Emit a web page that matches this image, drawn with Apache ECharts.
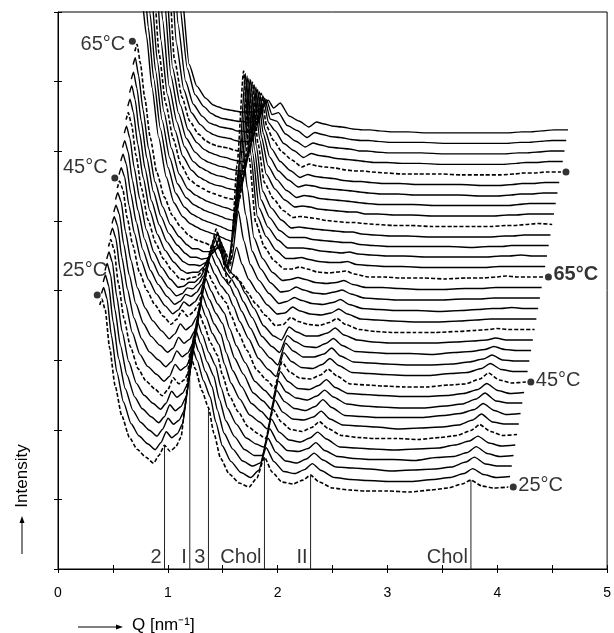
<!DOCTYPE html>
<html><head><meta charset="utf-8">
<script src="https://cdn.jsdelivr.net/npm/echarts@6/dist/echarts.min.js"></script>
<style>html,body{margin:0;padding:0;background:#fff}#chart{width:614px;height:633px}</style>
</head><body><div id="chart"></div>
<script>
// Q grid [nm^-1] shared by all scattering curves
const Q = [0.38,0.40,0.43,0.47,0.52,0.58,0.65,0.72,0.80,0.87,0.92,0.97,1.02,1.07,1.12,1.16,1.20,1.25,1.31,1.37,1.42,1.48,1.56,1.65,1.74,1.81,1.88,1.95,2.04,2.14,2.23,2.30,2.38,2.50,2.65,2.80,3.00,3.20,3.40,3.55,3.68,3.76,3.86,3.97,4.10];
// intensity of each curve (arbitrary units), bottom (25 °C) to top
const c00 = [183,189,178,140,102,72,50,38,30,24,32,42,36,40,50,84,134,119,97,80,54,29,13,4,0,9,30,15,5,3,7,12,5,-1,-3,-4,-4,-5,-3,-1,3,7,1,-1,0];
const c01 = [184,190,179,142,105,75,53,41,33,27,34,45,39,43,53,85,132,117,96,80,55,31,15,4,-1,6,29,15,5,3,7,13,6,-1,-3,-4,-5,-5,-3,-1,3,8,2,-1,0];
const c02 = [185,192,181,145,108,78,56,44,36,30,37,48,42,46,56,86,130,115,95,80,56,33,17,5,0,3,28,14,5,3,7,13,6,-1,-2,-3,-5,-4,-3,-1,4,9,2,0,0];
const c03 = [186,193,182,147,111,81,59,47,39,33,39,51,45,49,59,87,128,113,94,80,57,35,19,6,0,0,27,14,5,4,7,13,5,-1,-3,-4,-4,-5,-2,-1,3,9,2,-1,0];
const c04 = [187,194,184,150,114,84,62,50,42,36,42,54,48,52,62,88,126,111,93,80,58,37,21,7,1,-2,26,13,5,3,7,13,6,-2,-3,-4,-5,-4,-3,0,4,9,2,-1,0];
const c05 = [189,196,186,152,117,88,66,54,46,39,45,57,51,55,65,89,124,110,92,80,59,39,23,8,1,-4,25,13,5,3,7,13,6,-1,-3,-4,-4,-5,-3,-1,4,10,3,-1,0];
const c06 = [190,197,187,155,121,92,70,58,50,43,48,60,54,58,68,90,122,108,91,80,60,41,25,9,2,-5,24,12,5,4,7,13,5,-1,-2,-3,-5,-4,-3,-1,4,10,2,0,0];
const c07 = [191,198,189,157,125,96,75,62,54,47,52,63,57,61,71,91,120,106,90,80,61,43,27,10,2,-6,23,12,5,3,7,14,6,-2,-3,-4,-4,-4,-2,0,4,10,3,-1,0];
const c08 = [192,199,190,160,129,100,80,67,58,51,55,66,60,64,73,92,117,104,90,80,63,45,29,10,2,-6,22,11,5,3,7,13,6,-1,-3,-4,-5,-5,-3,-1,4,10,2,0,0];
const c09 = [194,201,192,162,133,105,85,72,62,54,59,69,63,67,76,93,115,102,89,80,64,47,30,11,2,-6,21,11,4,3,7,13,5,-1,-2,-3,-4,-4,-3,-1,3,9,2,-1,0];
const c10 = [195,202,194,165,138,111,92,78,66,58,63,72,66,70,78,94,112,100,88,80,66,50,32,12,2,-6,20,10,4,3,7,13,6,-2,-3,-4,-5,-5,-3,-2,3,9,2,-1,0];
const c11 = [198,205,196,167,139,112,92,78,66,58,62,70,66,70,78,93,110,98,86,78,66,50,33,13,2,-5,19,10,4,3,7,13,6,-1,-2,-3,-4,-4,-2,-1,3,8,2,0,0];
const c12 = [201,208,198,169,140,112,91,77,65,57,60,67,65,69,77,91,108,96,84,76,65,50,33,14,3,-4,18,10,4,4,7,13,5,-1,-2,-3,-4,-4,-3,-1,2,6,1,0,0];
const c13 = [204,211,200,171,141,112,90,75,63,55,57,63,62,67,75,89,105,93,80,72,63,49,33,14,4,-2,15,9,4,3,7,12,5,-1,-2,-3,-3,-4,-2,-1,1,4,1,0,0];
const c14 = [208,215,203,173,142,111,88,73,61,53,54,58,58,63,72,87,103,90,74,66,60,47,32,14,4,0,13,8,4,4,7,12,5,0,-2,-3,-3,-3,-2,-1,0,2,0,0,0];
const c15 = [211,218,206,175,142,110,87,71,59,51,50,52,53,58,69,85,101,75,46,55,48,38,26,14,4,5,12,8,5,4,7,11,5,0,-2,-3,-3,-3,-2,-1,0,1,0,0,0];
const c16 = [214,221,208,176,142,109,85,69,57,49,46,47,47,52,62,75,87,58,46,72,55,40,27,14,5,6,12,8,5,4,6,10,5,0,-1,-2,-3,-3,-2,-1,0,0,0,0,0];
const c17 = [217,224,210,177,141,108,84,67,55,47,44,44,43,46,54,62,71,42,50,98,68,44,28,15,5,7,11,8,5,4,6,9,4,0,-1,-2,-2,-3,-2,-1,0,0,1,0,0];
const c18 = [220,227,211,178,141,107,82,65,53,45,41,41,39,40,45,50,56,30,62,125,84,47,29,15,6,7,11,8,5,4,6,8,4,0,-1,-2,-2,-2,-1,-1,0,0,0,0,0];
const c19 = [224,231,213,179,140,106,81,63,51,43,39,39,36,36,38,40,41,20,82,150,100,50,29,15,7,8,10,8,5,4,5,7,3,0,0,-1,-2,-2,-1,-1,0,0,0,0,0];
const c20 = [227,234,215,180,140,105,80,62,50,42,38,36,34,32,30,28,26,12,112,207,120,55,30,16,8,8,10,8,5,4,5,6,3,0,0,-1,-1,-2,-1,-1,0,1,0,0,0];
const c21 = [262,272,266,232,180,130,90,64,50,43,40,37,35,33,31,29,27,25,100,194,112,50,30,16,8,8,9,7,5,4,4,5,2,1,0,0,-1,-1,-1,-1,0,0,0,0,0];
const c22 = [280,290,282,230,178,128,89,63,49,42,39,36,34,32,30,28,26,25,92,181,104,48,29,16,8,8,8,7,5,4,3,4,2,1,0,0,-1,-1,-1,-1,0,0,1,0,0];
const c23 = [300,310,290,233,176,126,88,62,48,41,38,35,33,31,29,27,26,25,85,168,97,46,28,15,8,8,8,6,5,4,3,3,1,0,-1,-1,-1,-1,-2,-1,-1,0,0,0,0];
const c24 = [315,325,305,238,175,124,87,61,46,40,37,34,32,30,28,27,25,24,78,156,90,44,27,15,7,8,7,6,5,4,3,3,1,0,-1,-1,-2,-2,-2,-2,-1,-1,0,0,0];
const c25 = [330,340,320,245,172,122,86,60,45,39,36,33,31,29,27,26,25,24,70,143,82,42,26,14,7,8,7,6,4,3,2,2,1,0,-1,-1,-2,-2,-2,-2,-1,-1,0,1,0];
const c26 = [345,355,335,255,175,120,84,58,44,37,34,31,29,28,26,25,24,23,63,130,75,40,25,14,7,8,7,5,4,3,2,2,0,0,-1,-1,-2,-2,-2,-2,-1,-1,0,0,0];
const c27 = [360,370,350,265,185,118,82,57,42,36,33,30,28,27,25,24,23,22,56,117,67,38,24,13,6,8,7,5,4,3,2,1,0,-1,-1,-1,-2,-2,-2,-2,-2,-1,0,0,0];
const c28 = [375,385,365,280,195,118,80,55,41,34,31,29,27,26,24,23,22,22,50,104,60,36,22,13,6,8,7,5,4,3,2,1,0,-1,-1,-2,-2,-2,-3,-3,-2,-1,-1,0,0];
const c29 = [390,400,380,295,200,115,78,53,40,33,30,28,26,25,23,22,21,21,44,91,53,34,21,12,5,8,6,5,4,2,1,1,0,-1,-1,-2,-2,-2,-3,-3,-2,-1,-1,0,0];
const c30 = [405,415,395,310,215,113,75,51,38,31,28,26,25,24,22,21,20,20,38,79,46,32,20,12,5,8,6,5,4,2,1,1,0,-1,-2,-2,-2,-3,-3,-3,-2,-1,-1,0,0];
const c31 = [420,430,410,325,228,120,72,49,37,30,27,25,24,23,21,20,20,20,33,66,39,31,18,11,4,8,6,5,3,2,1,0,-1,-1,-2,-2,-3,-3,-3,-3,-2,-1,-1,0,0];
const c32 = [435,445,425,340,240,128,70,47,35,28,26,24,23,22,20,20,19,19,28,53,32,30,17,10,4,8,6,4,3,2,0,0,-1,-2,-2,-2,-3,-3,-3,-3,-2,-2,-1,0,0];
const c33 = [450,460,440,355,250,136,72,46,34,27,24,22,21,20,19,19,18,19,24,41,26,28,15,10,3,8,6,4,3,1,0,0,-1,-2,-2,-2,-3,-3,-3,-3,-2,-2,-1,0,0];
const c34 = [465,475,455,370,262,140,66,44,32,25,23,21,20,19,18,18,18,18,22,30,22,27,14,9,3,8,6,4,3,1,0,0,-1,-2,-2,-3,-3,-3,-3,-3,-2,-2,-1,0,0];
const curves = [c00,c01,c02,c03,c04,c05,c06,c07,c08,c09,c10,c11,c12,c13,c14,c15,c16,c17,c18,c19,c20,c21,c22,c23,c24,c25,c26,c27,c28,c29,c30,c31,c32,c33,c34];
const dashedCurves = [0,5,10,15,20,25,30];
const leftMarks = [{curve:0,text:'25°C'},{curve:10,text:'45°C'},{curve:20,text:'65°C'}];
const rightMarks = [{curve:0,text:'25°C'},{curve:10,text:'45°C'},{curve:20,text:'65°C'},{curve:30,text:''}];
const refPeaks = [0.97,1.20,1.37,1.88,2.30,3.76];
const refNames = ['2','I','3','Chol','II','Chol'];
const xTickLabels = ['0','1','2','3','4','5'];

// waterfall layout (display offsets)
const SHIFT_X = 0.016, BASE_Y = 82.4, STEP_Y = 10.56;
const FONT = 'Liberation Sans, Arial, sans-serif';
const leftLabelOffsets = [[-15,-35],[-32,-21],[-32,-7]];

const pt = (i,k) => [Q[k] + SHIFT_X*i, curves[i][k] + BASE_Y + STEP_Y*i];
const series = [];
curves.forEach((c,i) => {
  const dashed = dashedCurves.includes(i);
  series.push({
    type:'line', data: c.map((v,k)=>pt(i,k)), symbol:'none', showSymbol:false,
    smooth:0.2, smoothMonotone:'x', clip:true, silent:true, z:3,
    lineStyle:{color:'#000', width: dashed ? 1.6 : 1.4, type: dashed ? [4,2] : 'solid'}
  });
});
refPeaks.forEach((q,j) => {
  const k = Q.indexOf(q);
  series.push({type:'line', data:[[q,0],[q,curves[0][k]+BASE_Y]], symbol:'none', silent:true, z:2,
    lineStyle:{color:'#222', width:1}});
});
series.push({type:'scatter', silent:true, symbolSize:0, z:4,
  data: refPeaks.map((q,j)=>({value:[q,12], name:refNames[j]})),
  label:{show:true, position:'left', distance:3, formatter:p=>p.name, fontSize:20, color:'#000', fontFamily:FONT}});
series.push({type:'scatter', silent:true, symbol:'circle', symbolSize:7, symbolOffset:[-2.5,-10], z:5,
  itemStyle:{color:'#000'}, data: leftMarks.map(m=>pt(m.curve,0))});
series.push({type:'scatter', silent:true, symbolSize:0, z:5,
  data: leftMarks.map((m,j)=>({value:pt(m.curve,0), name:m.text,
    label:{show:true, position:'inside', offset:leftLabelOffsets[j]}})),
  label:{formatter:p=>p.name, fontSize:20, color:'#000', fontFamily:FONT}});
const last = Q.length-1;
series.push({type:'scatter', silent:true, symbol:'circle', symbolSize:7, symbolOffset:[5,0], z:5,
  itemStyle:{color:'#000'}, data: rightMarks.map(m=>pt(m.curve,last))});
series.push({type:'scatter', silent:true, symbolSize:0, z:5,
  data: rightMarks.map(m=>({value:pt(m.curve,last), name:m.text,
    label:{show:true, position:'right', distance:10, offset:[0,-2], fontWeight: m.text==='65°C' ? 'bold':'normal'}})),
  label:{formatter:p=>p.name, fontSize:20, color:'#000', fontFamily:FONT}});

const chart = echarts.init(document.getElementById('chart'), null, {renderer:'canvas'});
chart.setOption({
  animation:false, backgroundColor:'#fff',
  grid:{left:58, top:12, width:553.5, height:557, show:true, borderColor:'#000', borderWidth:1, backgroundColor:'transparent'},
  xAxis:[
    {type:'value', min:0, max:5, interval:0.5, splitLine:{show:false},
     axisLine:{lineStyle:{color:'#000', width:1}}, axisTick:{length:4, lineStyle:{color:'#000'}},
     axisLabel:{color:'#000', fontSize:14, margin:17, fontFamily:FONT,
       formatter:v=>Math.abs(v-Math.round(v))<1e-6 ? xTickLabels[Math.round(v)] : ''}},
    {type:'value', min:0, max:5, interval:0.5, position:'bottom', splitLine:{show:false},
     axisLine:{show:false}, axisTick:{inside:true, length:4, lineStyle:{color:'#000'}}, axisLabel:{show:false}}
  ],
  yAxis:[
    {type:'value', min:0, max:560, interval:70, splitLine:{show:false},
     axisLine:{show:true, lineStyle:{color:'#000', width:1}}, axisTick:{show:true, length:4, lineStyle:{color:'#000'}}, axisLabel:{show:false}},
    {type:'value', min:0, max:560, interval:70, position:'left', splitLine:{show:false},
     axisLine:{show:false}, axisTick:{show:true, inside:true, length:4, lineStyle:{color:'#000'}}, axisLabel:{show:false}}
  ],
  graphic:[
    {type:'text', x:22, y:476, rotation:Math.PI/2, style:{text:'Intensity', fontSize:17, fontFamily:FONT, fill:'#000', textAlign:'center', textVerticalAlign:'middle'}},
    {type:'line', shape:{x1:22, y1:554, x2:22, y2:519}, style:{stroke:'#000', lineWidth:1}},
    {type:'polygon', shape:{points:[[22,516],[19.5,523],[24.5,523]]}, style:{fill:'#000'}},
    {type:'line', shape:{x1:78, y1:627, x2:120, y2:627}, style:{stroke:'#000', lineWidth:1}},
    {type:'polygon', shape:{points:[[123,627],[116,624.5],[116,629.5]]}, style:{fill:'#000'}},
    {type:'text', x:132, y:625, style:{text:'Q [nm⁻¹]', fontSize:17, fontFamily:FONT, fill:'#000', textAlign:'left', textVerticalAlign:'middle'}}
  ],
  series
});
</script></body></html>
